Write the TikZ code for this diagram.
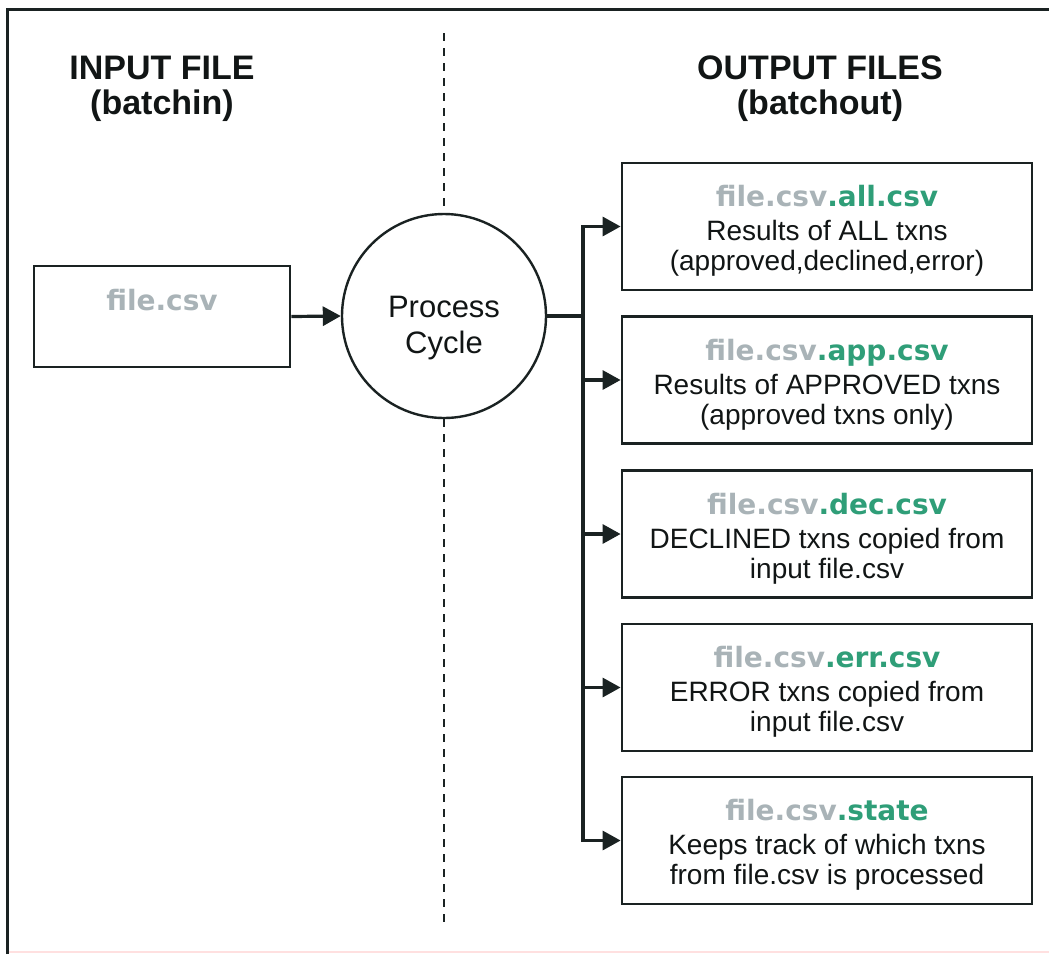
\documentclass[tikz,border=0pt]{standalone}
\usepackage{fontspec}
\setmainfont{Liberation Sans}
\newfontfamily\tfont{DejaVu Sans}
\usetikzlibrary{arrows.meta}
\definecolor{ink}{HTML}{111515}
\definecolor{edge}{HTML}{1A2222}
\definecolor{fgray}{HTML}{A9B3B7}
\definecolor{fgreen}{HTML}{2F9E78}
\tikzset{
  outbox/.style={draw=edge, line width=2.8pt, minimum width=410pt, minimum height=127pt, inner sep=0pt},
  inbox/.style={draw=edge, line width=2.8pt, minimum width=256pt, minimum height=101pt, inner sep=0pt},
  proccircle/.style={draw=edge, circle, line width=2.4pt, minimum size=204pt, inner sep=0pt},
  otext/.style={anchor=north, inner sep=0pt, align=center, text=ink, font=\fontsize{28}{30}\selectfont},
  headtext/.style={anchor=north, inner sep=0pt, align=center, text=ink, font=\bfseries\fontsize{34}{35}\selectfont},
  ptext/.style={anchor=north, inner sep=0pt, align=center, text=ink, font=\fontsize{31}{36}\selectfont},
  conn/.style={draw=edge, line width=3.2pt},
  arr/.style={conn, -{Triangle[length=18pt,width=19pt]}},
  divider/.style={draw=edge, line width=2.2pt, dash pattern=on 8pt off 7pt},
  frameline/.style={draw=edge, line width=3pt},
}
\newcommand{\ftitle}[1]{{\tfont\bfseries\color{fgray}file.csv\color{fgreen}#1}}
\begin{document}
\begin{tikzpicture}[x=1pt, y=-1pt]
\useasboundingbox (0,0) rectangle (1049,954);
% frame
\draw[red!12, line width=2pt] (7,952) -- (1049,952);
\draw[frameline] (7,954) -- (7,9) -- (1049,9);
% headings
\node[headtext] (inhead) at (162,55.7) {INPUT FILE\\(batchin)};
\node[headtext] (outhead) at (820,55.7) {OUTPUT FILES\\(batchout)};
% input box
\node[inbox] (in) at (162,316.5) {};
\node[anchor=base, inner sep=0pt, text=fgray, font=\tfont\bfseries\fontsize{28}{30}\selectfont] (intext) at (162,310) {file.csv};
% process
\node[proccircle] (proc) at (444,316) {};
\node[ptext] (proctext) at (444,296) {Process\\Cycle};
% divider
\coordinate (dtop) at (444,33);
\coordinate (dbot) at (444,922);
\draw[divider] (dtop) -- (proc.north);
\draw[divider] (proc.south) -- (dbot);
% output boxes
\node[outbox] (ob1) at (827,226.5) {};
\node[outbox] (ob2) at (827,380) {};
\node[outbox] (ob3) at (827,534) {};
\node[outbox] (ob4) at (827,687.5) {};
\node[outbox] (ob5) at (827,840.5) {};
\node[otext] (ob1t) at (827,184.7) {\ftitle{.all.csv}\\[4pt]Results of ALL txns\\(approved,declined,error)};
\node[otext] (ob2t) at (827,338.7) {\ftitle{.app.csv}\\[4pt]Results of APPROVED txns\\(approved txns only)};
\node[otext] (ob3t) at (827,492.7) {\ftitle{.dec.csv}\\[4pt]DECLINED txns copied from\\input file.csv};
\node[otext] (ob4t) at (827,645.7) {\ftitle{.err.csv}\\[4pt]ERROR txns copied from\\input file.csv};
\node[otext] (ob5t) at (827,798.7) {\ftitle{.state}\\[4pt]Keeps track of which txns\\from file.csv is processed};
% connectors
\draw[arr] (in.east) -- (proc.west);
\coordinate (j) at (583,316);
\draw[conn] (proc.east) -- (j);
\draw[arr] (j) |- (ob1.west);
\draw[arr] (j) |- (ob2.west);
\draw[arr] (j) |- (ob3.west);
\draw[arr] (j) |- (ob4.west);
\draw[arr] (j) |- (ob5.west);
\end{tikzpicture}
\end{document}
